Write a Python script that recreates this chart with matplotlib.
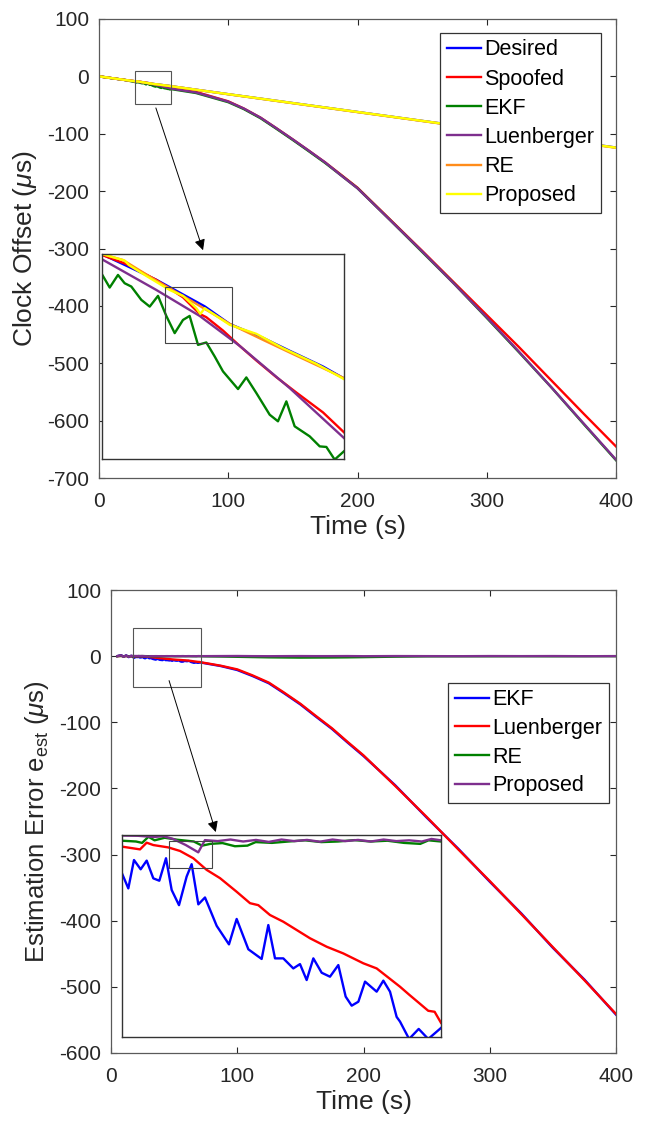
import numpy as np
import matplotlib.pyplot as plt
from matplotlib.patches import Rectangle

plt.rcParams['font.family'] = ['Liberation Sans', 'DejaVu Sans']
plt.rcParams['mathtext.fontset'] = 'custom'
plt.rcParams['mathtext.rm'] = 'Liberation Sans'
plt.rcParams['mathtext.it'] = 'Liberation Sans:italic'
plt.rcParams['axes.unicode_minus'] = False

# ---------------- top panel: clock offset ----------------
TOP_LABELS = ["Desired", "Spoofed", "EKF", "Luenberger", "RE", "Proposed"]
TOP_COLORS = ["#0000FF", "#FF0000", "#008000", "#7E2F8E", "#FF8C1A", "#FFFF00"]

# zoomed window (t = 28..56 s)
zin_desired_t = [28.0, 34.29, 39.88, 42.77, 46.63, 49.71, 53.57, 56.0]
zin_desired = [-8.52, -10.3, -12.15, -13.38, -14.35, -15.25, -16.35, -17.18]
zin_spoofed_t = [28.0, 30.82, 34.29, 37.37, 39.30, 40.07, 42.0, 43.93, 45.86, 48.17, 50.48, 53.57, 56.0]
zin_spoofed = [-8.57, -9.20, -10.31, -11.52, -12.68, -12.91, -13.84, -14.91, -15.93, -17.09, -18.16, -19.55, -20.94]
zin_ekf_t = [28.0, 28.89, 29.85, 30.62, 31.39, 32.55, 33.52, 34.48, 35.44, 36.41, 37.37, 38.14, 39.11, 40.07,
             41.04, 42.0, 43.74, 44.70, 45.86, 47.40, 48.36, 49.33, 50.29, 52.03, 53.19, 53.96, 54.92, 56.0]
zin_ekf = [-9.92, -10.84, -9.96, -10.54, -10.77, -11.70, -12.17, -11.42, -12.82, -14.02, -13.10, -12.82, -14.84, -14.67,
           -15.65, -16.69, -17.92, -17.11, -18.20, -19.71, -20.17, -18.78, -20.52, -21.22, -21.92, -21.96, -22.84, -22.26]
zin_luen_t = [28.0, 34.29, 39.30, 43.93, 49.71, 56.0]
zin_luen = [-8.87, -11.01, -12.82, -14.91, -17.85, -21.34]
zin_re_t = [28.0, 30.43, 34.29, 38.14, 42.77, 46.63, 49.71, 53.57, 56.0]
zin_re = [-8.5, -8.92, -10.36, -11.70, -13.37, -14.49, -15.37, -16.46, -17.16]
zin_prop_t = [28.0, 30.62, 31.12, 33.13, 35.83, 37.37, 38.91, 39.38, 39.88, 42.77, 45.86, 48.94, 52.80, 56.0]
zin_prop = [-8.5, -8.96, -9.27, -10.03, -11.01, -11.42, -12.28, -12.68, -12.28, -13.44, -14.07, -15.07, -16.16, -17.23]

# before and after the zoomed window
early_t = [0, 10, 20]
desired_early = [0, -3.1, -6.2]
lower_early = [0, -3.2, -6.3]
late_up_t = [100, 150, 200, 250, 300, 350, 400]
desired_late = [-31, -46.5, -62, -77.5, -93, -108.5, -124]
re_late = [-31.2, -46.8, -62.3, -77.8, -93.4, -108.8, -124.5]
prop_late = [-31, -46.5, -62, -77.5, -93, -108.6, -124.2]
late_low_t = [75, 100, 112, 125, 137, 150, 162, 175, 187, 200, 225, 250, 275, 300, 325, 350, 375, 400]
spoofed_late = [-27, -43.5, -56, -72, -90, -110, -129, -150, -171, -194, -249, -304, -360, -416, -472, -530, -588, -645]
ekf_late = [-29, -45, -57, -73, -91, -111, -130, -151, -172, -195, -250, -306, -362, -421, -481, -542, -606, -669]
luen_late = [-28, -44, -56, -72, -90, -110, -129, -150, -172, -195, -250, -305, -362, -420, -480, -542, -605, -668]

top_series = [
    (early_t + zin_desired_t + late_up_t, desired_early + zin_desired + desired_late),
    (early_t + zin_spoofed_t + late_low_t, lower_early + zin_spoofed + spoofed_late),
    (early_t + zin_ekf_t + late_low_t, lower_early + zin_ekf + ekf_late),
    (early_t + zin_luen_t + late_low_t, lower_early + zin_luen + luen_late),
    (early_t + zin_re_t + late_up_t, desired_early + zin_re + re_late),
    (early_t + zin_prop_t + late_up_t, desired_early + zin_prop + prop_late),
]

# ---------------- bottom panel: estimation error ----------------
BOT_LABELS = ["EKF", "Luenberger", "RE", "Proposed"]
BOT_COLORS = ["#0000FF", "#FF0000", "#008000", "#7E2F8E"]

zb_ekf_t = [17.50, 18.56, 19.51, 20.63, 21.64, 22.75, 23.76, 24.88, 25.83, 27.06, 28.34, 29.18, 30.30, 31.42,
            33.38, 35.44, 36.73, 38.69, 40.92, 42.04, 43.16, 44.55, 46.23, 47.35, 48.47, 49.59, 50.99, 52.38,
            53.78, 55.01, 56.02, 57.14, 58.26, 60.21, 61.33, 62.45, 63.56, 64.13, 65.65, 67.26, 68.86, 71.0]
zb_ekf = [-1.70, -2.46, -1.02, -1.49, -1.05, -1.95, -2.07, -0.93, -2.54, -3.31, -1.86, -1.23, -3.27, -2.92,
          -4.36, -5.30, -4.01, -5.55, -6.04, -4.32, -6.01, -6.01, -6.52, -6.30, -7.11, -6.01, -6.74, -6.94,
          -6.35, -7.95, -8.41, -8.21, -7.19, -7.70, -7.14, -7.70, -8.98, -9.22, -10.1, -9.59, -10.1, -9.54]
zb_luen_t = [17.50, 20.52, 21.64, 22.75, 25.27, 27.23, 29.46, 31.70, 33.94, 36.73, 38.97, 40.36, 42.32, 44.55,
             46.79, 49.03, 51.83, 54.62, 57.97, 60.21, 64.13, 65.65, 67.26, 68.86, 69.93, 71.0]
zb_luen = [-0.34, -0.48, -0.14, -0.26, -0.38, -0.56, -0.93, -1.52, -1.94, -2.63, -3.21, -3.31, -3.81, -4.15,
           -4.57, -4.99, -5.42, -5.76, -6.26, -6.52, -7.45, -7.85, -8.26, -8.67, -8.72, -9.28]
zb_re_t = [17.50, 19.85, 20.87, 21.94, 22.96, 24.67, 26.76, 29.54, 30.93, 32.32, 34.35, 36.44, 38.53, 39.92,
           42.65, 45.43, 48.21, 50.94, 53.72, 56.50, 59.23, 62.01, 64.79, 67.52, 68.91, 71.0]
zb_re = [-0.04, -0.08, -0.15, 0.16, -0.02, 0.11, 0.01, -0.08, -0.29, -0.20, -0.16, -0.32, -0.29, -0.11,
         -0.15, -0.08, -0.02, -0.11, -0.08, -0.01, -0.08, -0.04, -0.15, -0.20, -0.02, -0.08]
zb_prop_t = [17.50, 20.18, 22.85, 24.46, 26.06, 28.20, 30.29, 31.41, 33.55, 35.69, 37.83, 39.97, 42.11, 44.25,
             46.39, 48.53, 50.67, 52.81, 54.95, 57.09, 59.23, 61.37, 63.51, 65.65, 67.79, 69.40, 71.0]
zb_prop = [0.22, 0.21, 0.15, 0.19, 0.05, -0.26, -0.63, -0.01, -0.06, 0.02, -0.08, 0.00, -0.10, 0.02,
           -0.06, 0.00, -0.09, 0.02, -0.06, 0.00, -0.08, 0.02, -0.06, -0.02, -0.08, 0.05, -0.02]

b_early_t = [5, 8, 10, 12, 14, 16]
b_ekf_early = [0, 1.5, -1.0, 1.2, -1.5, 0.5]
b_luen_early = [0, 0.3, -0.2, 0.2, -0.3, -0.2]
b_re_early = [0, 0.4, -0.3, 0.3, -0.2, 0.1]
b_prop_early = [0, 1.2, -0.8, 1.0, -1.0, 0.6]
b_late_t = [75, 87, 100, 112, 125, 137, 150, 162, 175, 187, 200, 225, 250, 275, 300, 325, 350, 375, 400]
b_ekf_late = [-11, -15, -21, -30, -41, -56, -73, -91, -110, -130, -151, -195, -244, -291, -341, -389, -441, -489, -542]
b_luen_late = [-10.5, -14.5, -20, -29, -40, -55, -72, -90, -109, -129, -150, -196, -243, -292, -340, -390, -440, -490, -541]
b_re_late = [-0.3, -0.6, -1.0, -1.4, -1.8, -2.0, -2.2, -2.1, -2.0, -1.8, -1.5, -0.8, -0.3, -0.2, -0.2, -0.1, -0.2, -0.1, 0]
b_prop_late = [0, 0.1, 0.2, 0, -0.1, 0, 0.1, 0, 0, 0.1, -0.1, 0.1, 0, -0.1, 0.1, 0, 0.1, -0.1, 0]

bot_series = [
    (b_early_t + zb_ekf_t + b_late_t, b_ekf_early + zb_ekf + b_ekf_late),
    (b_early_t + zb_luen_t + b_late_t, b_luen_early + zb_luen + b_luen_late),
    (b_early_t + zb_re_t + b_late_t, b_re_early + zb_re + b_re_late),
    (b_early_t + zb_prop_t + b_late_t, b_prop_early + zb_prop + b_prop_late),
]

GRAY = "#262626"
FRAME = "#5a5a5a"
LW = 1.7


def style_axes(ax):
    ax.tick_params(direction='in', top=True, right=True, length=4, width=0.8,
                   labelsize=15, colors=GRAY, pad=7)
    ax.tick_params(axis='x', pad=10)
    for sp in ax.spines.values():
        sp.set_color(FRAME)
        sp.set_linewidth(0.9)


def style_inset(ax):
    ax.set_xticks([])
    ax.set_yticks([])
    for sp in ax.spines.values():
        sp.set_color("#333333")
        sp.set_linewidth(1.0)


fig = plt.figure(figsize=(6.46, 11.24), dpi=100)
W, H = 646.0, 1124.0

# ---- top main axes
ax1 = fig.add_axes([99 / W, 1 - 478 / H, 517 / W, 459 / H])
for (t, v), c, lab in zip(top_series, TOP_COLORS, TOP_LABELS):
    ax1.plot(t, v, color=c, lw=LW, label=lab)
ax1.set_xlim(0, 400)
ax1.set_ylim(-700, 100)
ax1.set_xticks([0, 100, 200, 300, 400])
ax1.set_yticks(np.arange(-700, 101, 100))
style_axes(ax1)
ax1.set_xlabel("Time (s)", fontsize=19, color=GRAY, labelpad=3)
ax1.set_ylabel(r"Clock Offset ($\mu$s)", fontsize=19, color=GRAY, labelpad=6)
leg = ax1.legend(loc='upper right', bbox_to_anchor=(0.971, 0.9695), fontsize=15.5,
                 frameon=True, fancybox=False, framealpha=1, edgecolor="#333333",
                 handlelength=1.6, handletextpad=0.15, borderpad=0.3, labelspacing=0.38,
                 borderaxespad=0)
leg.get_frame().set_linewidth(0.9)
ax1.add_patch(Rectangle((27.7, -47.9), 28.1, 56.7, fill=False, ec="#555555", lw=0.8, zorder=5))
ax1.annotate("", xy=(80.5, -303), xytext=(44, -55),
             arrowprops=dict(arrowstyle='-|>', color='black', lw=0.7, mutation_scale=16,
                             shrinkA=0, shrinkB=0), zorder=6)

# ---- top inset
ins1 = fig.add_axes([102 / W, 1 - 459 / H, 242 / W, 205 / H])
for (t, v), c in zip([(zin_desired_t, zin_desired), (zin_spoofed_t, zin_spoofed), (zin_ekf_t, zin_ekf),
                      (zin_luen_t, zin_luen), (zin_re_t, zin_re), (zin_prop_t, zin_prop)], TOP_COLORS):
    ins1.plot(t, v, color=c, lw=LW)
ins1.set_xlim(28, 56)
ins1.set_ylim(-22.8, -8.5)
style_inset(ins1)
ins1.add_patch(Rectangle((0.26, 0.565), 0.279, 0.276, transform=ins1.transAxes,
                         fill=False, ec="#444444", lw=0.8, zorder=5))

# ---- bottom main axes
ax2 = fig.add_axes([111 / W, 1 - 1053 / H, 505 / W, 463 / H])
for (t, v), c, lab in zip(bot_series, BOT_COLORS, BOT_LABELS):
    ax2.plot(t, v, color=c, lw=LW, label=lab)
ax2.set_xlim(0, 400)
ax2.set_ylim(-600, 100)
ax2.set_xticks([0, 100, 200, 300, 400])
ax2.set_yticks(np.arange(-600, 101, 100))
style_axes(ax2)
ax2.set_xlabel("Time (s)", fontsize=19, color=GRAY, labelpad=3)
ax2.set_ylabel(r"Estimation Error e$_{\mathrm{est}}$ ($\mu$s)", fontsize=18.5, color=GRAY, labelpad=6)
leg2 = ax2.legend(loc='upper right', bbox_to_anchor=(0.986, 0.80), fontsize=15.5,
                  frameon=True, fancybox=False, framealpha=1, edgecolor="#333333",
                  handlelength=1.6, handletextpad=0.15, borderpad=0.3, labelspacing=0.36,
                  borderaxespad=0)
leg2.get_frame().set_linewidth(0.9)
ax2.add_patch(Rectangle((17.5, -47), 53.5, 89, fill=False, ec="#555555", lw=0.8, zorder=5))
ax2.annotate("", xy=(83, -266), xytext=(46, -37),
             arrowprops=dict(arrowstyle='-|>', color='black', lw=0.7, mutation_scale=16,
                             shrinkA=0, shrinkB=0), zorder=6)

# ---- bottom inset
ins2 = fig.add_axes([122 / W, 1 - 1037 / H, 319 / W, 202 / H])
for (t, v), c in zip([(zb_ekf_t, zb_ekf), (zb_luen_t, zb_luen), (zb_re_t, zb_re),
                      (zb_prop_t, zb_prop)], BOT_COLORS):
    ins2.plot(t, v, color=c, lw=LW)
ins2.set_xlim(17.5, 71)
ins2.set_ylim(-10.0, 0.25)
style_inset(ins2)
ins2.add_patch(Rectangle((0.147, 0.839), 0.136, 0.131, transform=ins2.transAxes,
                         fill=False, ec="#444444", lw=0.8, zorder=5))

fig.savefig("out.png", dpi=100)
